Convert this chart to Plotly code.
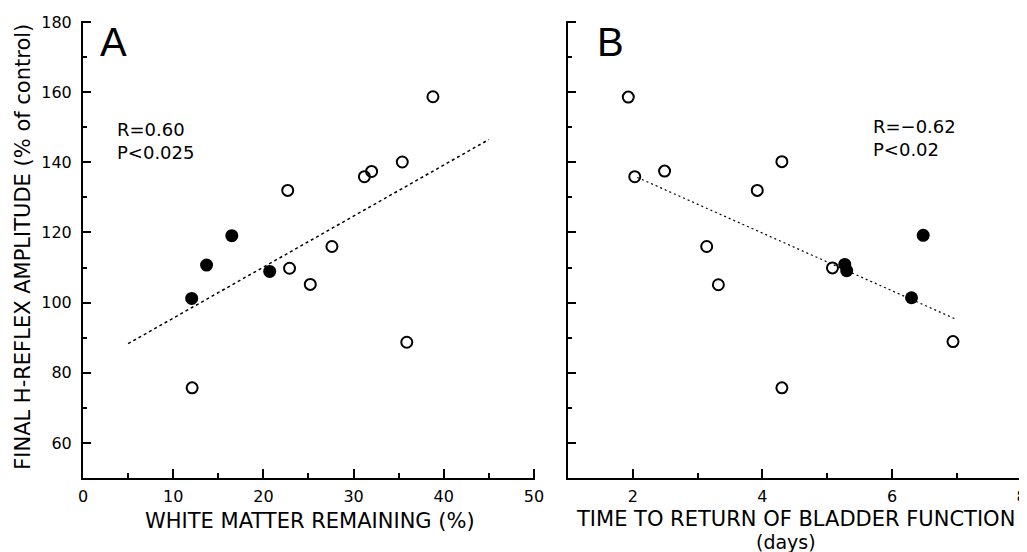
import plotly.graph_objects as go

# ---- data ----
# Panel A: white matter remaining (%) vs final H-reflex amplitude (% of control)
a_open_x = [12.1, 22.7, 22.9, 25.2, 27.6, 31.2, 32.0, 35.4, 35.9, 38.8]
a_open_y = [75.7, 132.0, 109.8, 105.2, 116.0, 135.9, 137.4, 140.1, 88.7, 158.7]
a_fill_x = [12.05, 13.7, 16.5, 20.7]
a_fill_y = [101.2, 110.7, 119.1, 108.9]
a_fit_x = [5.0, 45.0]
a_fit_y = [88.3, 146.5]

# Panel B: time to return of bladder function (days) vs same amplitude
b_open_x = [1.93, 2.03, 2.49, 3.14, 3.32, 3.92, 4.30, 4.30, 5.08, 6.94]
b_open_y = [158.6, 135.9, 137.5, 116.0, 105.1, 132.0, 140.2, 75.7, 109.9, 88.9]
b_fill_x = [5.27, 5.30, 6.30, 6.48]
b_fill_y = [110.9, 109.1, 101.4, 119.2]
b_fit_x = [2.07, 6.97]
b_fit_y = [135.7, 95.4]

y_ticks = [60, 80, 100, 120, 140, 160, 180]
y_minor = [70, 90, 110, 130, 150, 170]
a_x_ticks = [0, 10, 20, 30, 40, 50]
a_x_minor = [5, 15, 25, 35, 45]
b_x_ticks = [2, 4, 6, 8]
b_x_minor = [3, 5, 7]

FONT = "DejaVu Sans"
OFF = 8                      # page body margin of the browser
W, H = 1027 - OFF, 552 - OFF
L, R, T, B = 83.3 - OFF, 3.7, 20.7 - OFF, 74

fig = go.Figure()

def add_panel(ox, oy, fx, fy, lx, ly, xa, ya, dash, lw):
    fig.add_trace(go.Scatter(x=lx, y=ly, mode="lines", xaxis=xa, yaxis=ya,
                             line=dict(color="black", width=lw, dash=dash),
                             showlegend=False, hoverinfo="skip"))
    fig.add_trace(go.Scatter(x=ox, y=oy, mode="markers", xaxis=xa, yaxis=ya,
                             marker=dict(symbol="circle-open", size=11, color="black",
                                         line=dict(width=2, color="black")),
                             showlegend=False))
    fig.add_trace(go.Scatter(x=fx, y=fy, mode="markers", xaxis=xa, yaxis=ya,
                             marker=dict(symbol="circle", size=13, color="black"),
                             showlegend=False))

add_panel(a_open_x, a_open_y, a_fill_x, a_fill_y, a_fit_x, a_fit_y, "x", "y", "3px,3px", 1.5)
add_panel(b_open_x, b_open_y, b_fill_x, b_fill_y, b_fit_x, b_fit_y, "x2", "y2", "2px,3px", 1.2)

pw = W - L - R
ph = H - T - B
def px_x(p):
    return (p - OFF - L) / pw
def px_y(p):
    return (H - B - (p - OFF)) / ph

TICKC = "black"
common_axis = dict(showline=True, linecolor="black", linewidth=2, showgrid=False,
                   zeroline=False, ticks="inside", tickwidth=2,
                   ticklabeloverflow="allow",
                   tickfont=dict(family=FONT, size=16, color="black"))

fig.update_layout(
    width=W, height=H,
    margin=dict(l=L, r=R, t=T, b=B, autoexpand=False),
    paper_bgcolor="white", plot_bgcolor="white",
    font=dict(family=FONT, color="black"),
    xaxis=dict(domain=[0, px_x(535.6)], range=[0, 50.15], tickvals=a_x_ticks, ticklen=9, tickcolor=TICKC,
               minor=dict(tickvals=a_x_minor, ticks="inside", ticklen=5, tickwidth=2, tickcolor=TICKC),
               anchor="y", ticklabelstandoff=3, **common_axis),
    yaxis=dict(domain=[0, 1], range=[50, 180.3], tickvals=y_ticks, ticklen=8, tickcolor=TICKC,
               minor=dict(tickvals=y_minor, ticks="inside", ticklen=4, tickwidth=2, tickcolor=TICKC),
               anchor="x", ticklabelstandoff=6, **common_axis),
    xaxis2=dict(domain=[px_x(568.3), 1], range=[1, 8.02], tickvals=b_x_ticks, ticklen=9, tickcolor=TICKC,
                minor=dict(tickvals=b_x_minor, ticks="inside", ticklen=5, tickwidth=2, tickcolor=TICKC),
                anchor="y2", ticklabelstandoff=3, **common_axis),
    yaxis2=dict(domain=[0, 1], range=[50, 180.3], tickvals=y_ticks, ticklen=8, tickcolor=TICKC,
                minor=dict(tickvals=y_minor, ticks="inside", ticklen=4, tickwidth=2, tickcolor=TICKC),
                anchor="x2", showticklabels=False, **common_axis),
)

ann = []
# panel letters
ann.append(dict(text="A", xref="x", yref="y", x=1.7, y=174.3, xanchor="left", yanchor="middle",
                showarrow=False, font=dict(family="Liberation Sans", size=40, color="black")))
ann.append(dict(text="B", xref="x2", yref="y2", x=1.42, y=174.3, xanchor="left", yanchor="middle",
                showarrow=False, font=dict(family="Liberation Sans", size=40, color="black")))
# statistics
ann.append(dict(text="R=0.60<br>P<0.025", xref="x", yref="y", x=3.5, y=146.2, xanchor="left",
                yanchor="middle", align="left", showarrow=False,
                font=dict(family=FONT, size=18, color="black")))
ann.append(dict(text="R=\u22120.62<br>P<0.02", xref="x2", yref="y2", x=5.67, y=146.9, xanchor="left",
                yanchor="middle", align="left", showarrow=False,
                font=dict(family=FONT, size=18, color="black")))
# axis titles
ann.append(dict(text="FINAL H\u2010REFLEX AMPLITUDE (% of control)", xref="paper", yref="paper",
                x=px_x(23), y=px_y(247), textangle=-90, xanchor="center", yanchor="middle",
                showarrow=False, font=dict(family=FONT, size=21, color="black")))
ann.append(dict(text="WHITE MATTER REMAINING (%)", xref="paper", yref="paper",
                x=px_x(310), y=px_y(521), xanchor="center", yanchor="middle",
                showarrow=False, font=dict(family=FONT, size=21, color="black")))
ann.append(dict(text="TIME TO RETURN OF BLADDER FUNCTION", xref="paper", yref="paper",
                x=px_x(796), y=px_y(519.5), xanchor="center", yanchor="middle",
                showarrow=False, font=dict(family=FONT, size=21, color="black")))
ann.append(dict(text="(days)", xref="paper", yref="paper",
                x=px_x(786), y=px_y(542.5), xanchor="center", yanchor="middle",
                showarrow=False, font=dict(family=FONT, size=19, color="black")))
fig.update_layout(annotations=ann)

fig.write_html("out.html")
